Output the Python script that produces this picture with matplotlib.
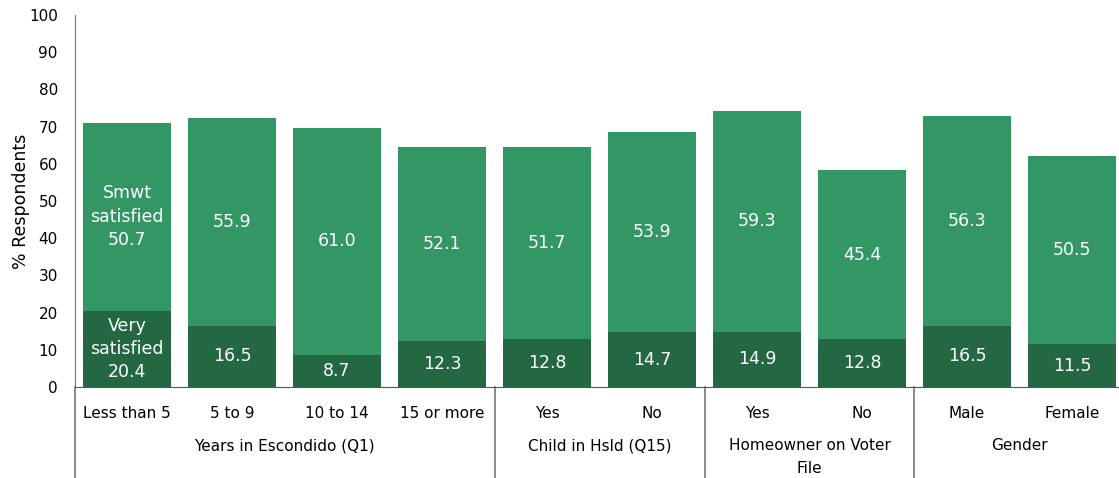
import numpy as np
import matplotlib.pyplot as plt
from matplotlib.transforms import blended_transform_factory

categories = ['Less than 5', '5 to 9', '10 to 14', '15 or more',
              'Yes', 'No', 'Yes', 'No', 'Male', 'Female']
very_satisfied = [20.4, 16.5, 8.7, 12.3, 12.8, 14.7, 14.9, 12.8, 16.5, 11.5]
smwt_satisfied = [50.7, 55.9, 61.0, 52.1, 51.7, 53.9, 59.3, 45.4, 56.3, 50.5]
groups = ['Years in Escondido (Q1)', 'Child in Hsld (Q15)',
          'Homeowner on Voter\nFile', 'Gender']
group_sizes = [4, 2, 2, 2]

dark = '#236843'
light = '#339665'

fig = plt.figure(figsize=(11.19, 4.78), dpi=100)
ax = fig.add_axes([0.0666, 0.1904, 0.9383, 0.7782])

x = np.arange(len(categories))
very = np.array(very_satisfied)
smwt = np.array(smwt_satisfied)
ax.bar(x, very, width=0.84, color=dark, zorder=2)
ax.bar(x, smwt, width=0.84, bottom=very, color=light, zorder=2)

for i in range(len(x)):
    lo = f'{very[i]:.1f}'
    hi = f'{smwt[i]:.1f}'
    if i == 0:
        lo = 'Very\nsatisfied\n' + lo
        hi = 'Smwt\nsatisfied\n' + hi
    ax.text(x[i], very[i] / 2, lo, ha='center', va='center', color='white',
            fontsize=12.5, linespacing=1.38, zorder=3)
    ax.text(x[i], very[i] + smwt[i] / 2, hi, ha='center', va='center',
            color='white', fontsize=12.5, linespacing=1.38, zorder=3)

ax.set_xlim(-0.5, len(categories) - 0.5)
ax.set_ylim(0, 100)
ax.set_yticks(range(0, 101, 10))
ax.tick_params(axis='y', length=0, pad=12, labelsize=11)
ax.set_xticks(x)
ax.set_xticklabels(categories)
ax.tick_params(axis='x', length=0, pad=14, labelsize=11)
ax.set_ylabel('% Respondents', fontsize=12.5, labelpad=-1)

for side in ['top', 'right']:
    ax.spines[side].set_visible(False)
ax.spines['left'].set_color('#777777')
ax.spines['bottom'].set_color('#555555')

# group brackets below the axis
trans = blended_transform_factory(ax.transData, ax.transAxes)
start = 0
bounds = [-0.5]
for name, n in zip(groups, group_sizes):
    mid = start + (n - 1) / 2
    ax.text(mid, -0.138, name, transform=trans, ha='center', va='top',
            fontsize=11, linespacing=1.65)
    start += n
    bounds.append(start - 0.5)
for b in bounds[:-1]:
    ax.plot([b, b], [0, -0.25], transform=trans, color='#777777', lw=1.2,
            clip_on=False)

fig.savefig('out.png', dpi=100)
